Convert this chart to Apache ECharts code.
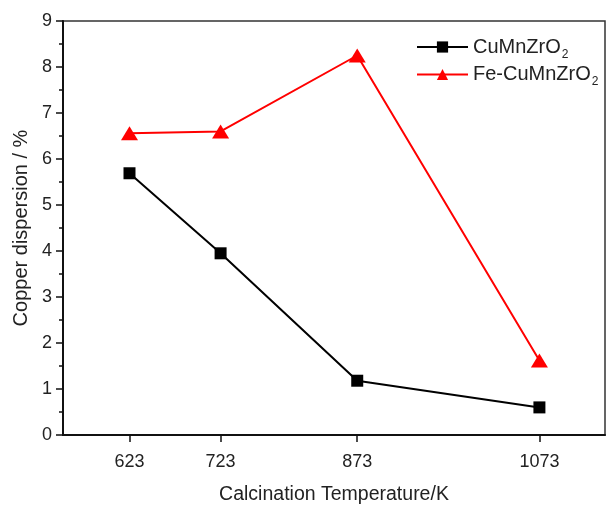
<!DOCTYPE html>
<html>
<head>
<meta charset="utf-8">
<script src="https://cdn.jsdelivr.net/npm/echarts@6/dist/echarts.min.js"></script>
<style>
  html, body { margin: 0; padding: 0; background: #fff; }
  #chart { width: 607px; height: 505px; }
</style>
</head>
<body>
<div id="chart"></div>
<script>
// Calcination temperatures (K) and copper dispersion (%) for both catalysts
const temperatures = [623, 723, 873, 1073];
const cuMnZrO2 = [5.69, 3.95, 1.18, 0.60];
const feCuMnZrO2 = [6.56, 6.60, 8.25, 1.62];
const xTickLabels = [623, 723, 873, 1073];
const seriesNames = ['CuMnZrO2', 'Fe-CuMnZrO2'];

const FONT = '"Liberation Sans", Arial, sans-serif';

const pairs = (xs, ys) => xs.map((x, i) => [x, ys[i]]);

const chart = echarts.init(document.getElementById('chart'));
chart.setOption({
  backgroundColor: '#fff',
  animation: false,
  textStyle: { fontFamily: FONT },
  grid: {
    left: 63, right: 2, top: 21, bottom: 70,
    outerBoundsMode: 'none',
    show: true, borderColor: '#333', borderWidth: 1.5
  },
  legend: {
    orient: 'vertical',
    left: 411, top: 32,
    itemWidth: 51, itemHeight: 14, itemGap: 4,
    data: seriesNames,
    // chemical formula with a subscript 2
    formatter: name => '{n|' + name.replace(/2$/, '') + '}{s|2}',
    textStyle: {
      fontFamily: FONT, color: '#222', fontSize: 20,
      rich: {
        n: { fontFamily: FONT, fontSize: 20, color: '#222' },
        s: { fontFamily: FONT, fontSize: 12, color: '#222', padding: [15, 0, 0, 1] }
      }
    }
  },
  xAxis: {
    type: 'value',
    min: 550, max: 1145,
    name: 'Calcination Temperature/K',
    nameLocation: 'middle',
    nameGap: 50,
    nameTextStyle: { fontFamily: FONT, fontSize: 19.5, color: '#222' },
    axisLine: { show: true, onZero: false, lineStyle: { color: '#111', width: 2 } },
    axisTick: { show: true, length: 7, customValues: xTickLabels, lineStyle: { color: '#111', width: 1.5 } },
    axisLabel: {
      customValues: xTickLabels, margin: 18, fontSize: 18, color: '#222', fontFamily: FONT,
      formatter: v => String(v)
    },
    splitLine: { show: false }
  },
  yAxis: {
    type: 'value',
    min: 0, max: 9, interval: 1,
    name: 'Copper dispersion / %',
    nameLocation: 'middle',
    nameGap: 28,
    nameTextStyle: { fontFamily: FONT, fontSize: 20, color: '#222' },
    axisLine: { show: true, lineStyle: { color: '#111', width: 2 } },
    axisTick: { show: true, length: 7, lineStyle: { color: '#111', width: 1.5 } },
    minorTick: { show: true, splitNumber: 2, length: 4, lineStyle: { color: '#111', width: 1.5 } },
    axisLabel: { margin: 11, fontSize: 18, color: '#222', fontFamily: FONT },
    splitLine: { show: false }
  },
  series: [
    {
      name: seriesNames[0],
      type: 'line',
      data: pairs(temperatures, cuMnZrO2),
      symbol: 'rect',
      symbolSize: 12,
      itemStyle: { color: '#000' },
      lineStyle: { color: '#000', width: 2 },
      z: 3
    },
    {
      name: seriesNames[1],
      type: 'line',
      data: pairs(temperatures, feCuMnZrO2),
      symbol: 'triangle',
      symbolSize: [17, 14],
      itemStyle: { color: '#f00' },
      lineStyle: { color: '#f00', width: 2 },
      z: 3
    }
  ]
});
</script>
</body>
</html>
